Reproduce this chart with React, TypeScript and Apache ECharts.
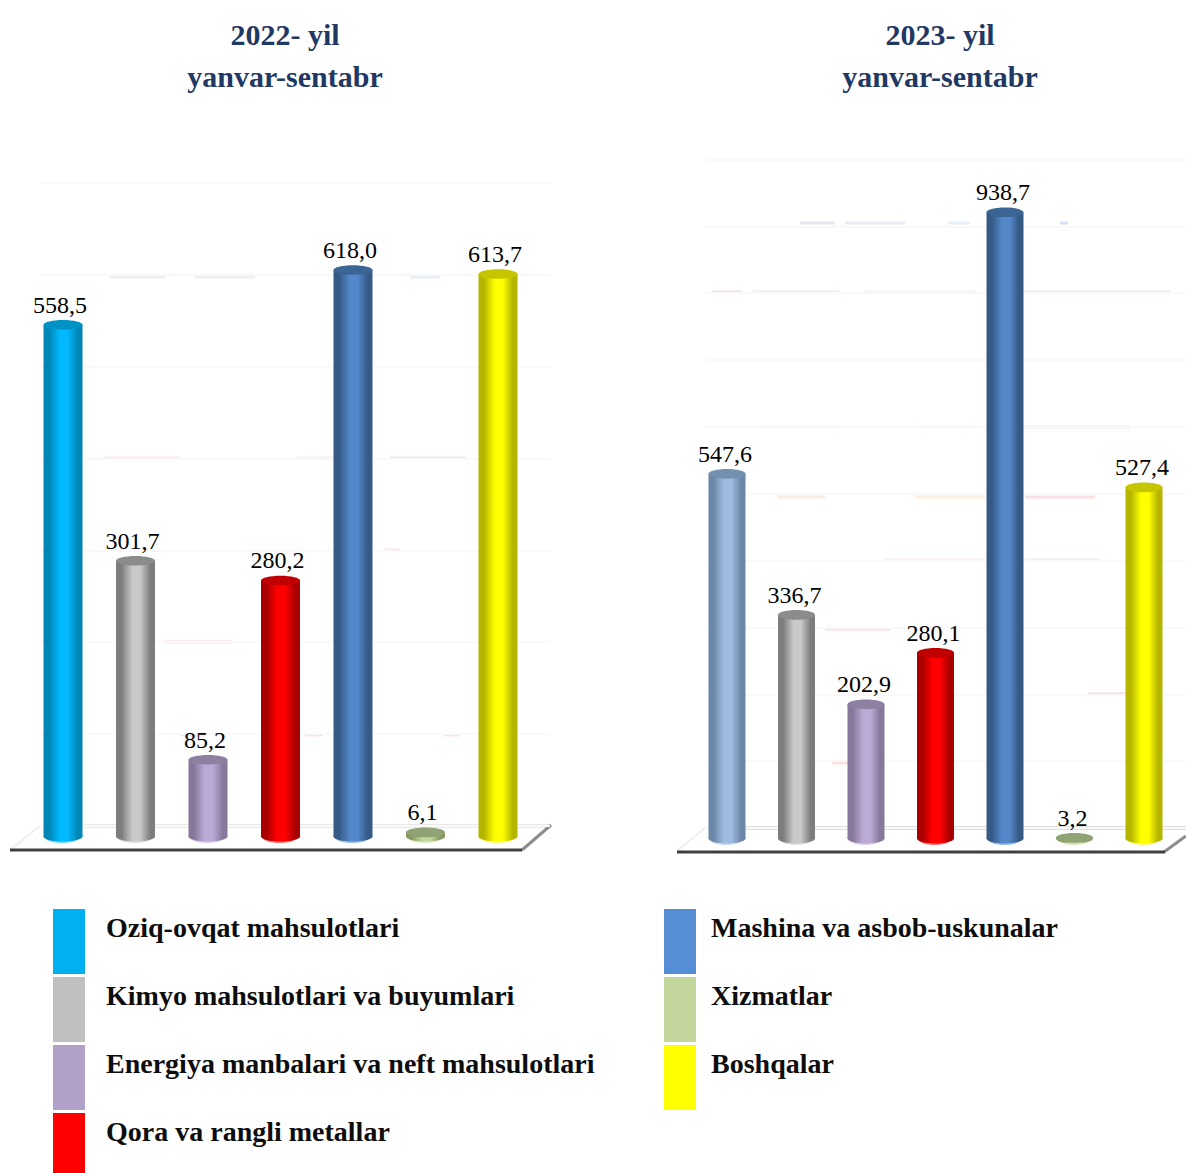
import React, { useEffect, useRef } from "react";
import * as echarts from "echarts";

const categories = [
  "Oziq-ovqat mahsulotlari",
  "Kimyo mahsulotlari va buyumlari",
  "Energiya manbalari va neft mahsulotlari",
  "Qora va rangli metallar",
  "Mashina va asbob-uskunalar",
  "Xizmatlar",
  "Boshqalar",
];
const values2022 = [558.5, 301.7, 85.2, 280.2, 618.0, 6.1, 613.7];
const values2023 = [547.6, 336.7, 202.9, 280.1, 938.7, 3.2, 527.4];
const legendColors = ["#00b0f0", "#bfbfbf", "#b1a0c7", "#ff0000", "#558ed5", "#c3d69b", "#ffff00"];

// [edge, centre, top]
const shades2022 = [
  ["#0085b5", "#00b9ff", "#0092c4"],
  ["#7d7d7d", "#c9c9c9", "#8c8c8c"],
  ["#85789b", "#bcaad6", "#8d80a0"],
  ["#a80000", "#ff0000", "#c00000"],
  ["#345a85", "#5488ca", "#3a6595"],
  ["#87995f", "#c3d69b", "#8fa374"],
  ["#b5b500", "#ffff00", "#c6c600"],
];
const shades2023 = [["#6c86a8", "#9fbde2", "#7490b0"], ...shades2022.slice(1)];

const SERIF = '"Liberation Serif"';

function cylinderSeries(name: string, values: number[], shades: string[][], axisIndex: number, width: number, labelShift: number) {
  return {
    type: "custom",
    name,
    xAxisIndex: axisIndex,
    yAxisIndex: axisIndex,
    clip: false,
    z: 5,
    encode: { x: 0, y: 1 },
    data: values.map((v, i) => [i, v]),
    renderItem: (_p: any, api: any) => {
      const i = api.value(0);
      const v = api.value(1);
      const top = api.coord([i, v]);
      const base = api.coord([i, 0]);
      const [edge, centre, cap] = shades[i];
      const cx = top[0];
      const r = width / 2;
      const grad = new echarts.graphic.LinearGradient(0, 0, 1, 0, [
        { offset: 0, color: edge },
        { offset: 0.14, color: edge },
        { offset: 0.42, color: centre },
        { offset: 0.62, color: centre },
        { offset: 0.88, color: edge },
        { offset: 1, color: edge },
      ]);
      return {
        type: "group",
        children: [
          { type: "ellipse", shape: { cx: cx - 1, cy: base[1], rx: r - 3, ry: 5 }, style: { fill: centre, opacity: 0.55 } },
          { type: "ellipse", shape: { cx, cy: base[1] - 1.5, rx: r, ry: 5 }, style: { fill: grad } },
          { type: "rect", shape: { x: cx - r, y: top[1], width: width, height: base[1] - 1.5 - top[1] }, style: { fill: grad } },
          { type: "ellipse", shape: { cx, cy: top[1], rx: r, ry: 4.8 }, style: { fill: cap } },
          {
            type: "text",
            style: {
              text: v.toFixed(1).replace(".", ","),
              x: cx + labelShift,
              y: top[1] - 20,
              align: "center",
              verticalAlign: "middle",
              fill: "#000",
              font: `24px ${SERIF}`,
            },
          },
        ],
      };
    },
  };
}

const hiddenY = (max: number, grid: number, showSplit: boolean) => ({
  type: "value",
  gridIndex: grid,
  min: 0,
  max,
  interval: 100,
  axisLabel: { show: false },
  axisLine: { show: false },
  axisTick: { show: false },
  splitLine: { show: showSplit, lineStyle: { color: "#faf8f8", width: 2 } },
});
const hiddenX = (grid: number) => ({
  type: "category",
  gridIndex: grid,
  data: categories,
  show: false,
});

const seg = (x1: number, x2: number, y: number, color: string, width = 3) => ({
  type: "line",
  shape: { x1, y1: y, x2, y2: y },
  style: { stroke: color, lineWidth: width },
  silent: true,
});
const diag = (x1: number, y1: number, x2: number, y2: number, color: string, width = 3) => ({
  type: "line",
  shape: { x1, y1, x2, y2 },
  style: { stroke: color, lineWidth: width },
  silent: true,
});

const decor = [
  // gridline remnants, left panel
  seg(110, 165, 277, "#f1edf1"), seg(195, 255, 277, "#f1edf1"), seg(410, 440, 277, "#e6edf5"),
  seg(103, 180, 458, "#fbe9ec"), seg(295, 340, 458, "#f8f0f0"), seg(390, 465, 458, "#efe4ee"),
  seg(385, 400, 550, "#fbe6e6"), seg(165, 232, 642, "#fcdcdc"), seg(180, 205, 735, "#fde0e6"),
  seg(305, 322, 735, "#fde0e6"), seg(443, 460, 735, "#fde0e6"),
  // gridline remnants, right panel
  seg(800, 835, 223, "#e6e6f0"), seg(845, 905, 223, "#e8ecf4"), seg(948, 970, 223, "#e6eef6"), seg(1060, 1068, 223, "#d5e4f2"),
  seg(712, 742, 292, "#f8dfe4"), seg(753, 840, 292, "#f8eaea"), seg(865, 975, 292, "#faf1ef"), seg(1025, 1170, 292, "#e3ebf6"),
  seg(765, 840, 427, "#fbefe9"), seg(920, 970, 427, "#f9efe9"), seg(1025, 1130, 427, "#ece8f0"),
  seg(778, 825, 497, "#fcebe3"), seg(915, 985, 497, "#fdeee0"), seg(1025, 1095, 497, "#f8e0e3"),
  seg(885, 985, 560, "#fdf0e8"), seg(1025, 1100, 560, "#f8eee8"),
  seg(825, 890, 629, "#fcdcdc"), seg(1088, 1125, 694, "#fcdcdc"), seg(832, 848, 763, "#f6e0e0"),
  // floor, left panel
  seg(85, 550, 826, "#d6d6d2"),
  diag(10, 850, 40, 826, "#efefef", 2),
  diag(522, 850, 551, 825, "#8c8c8c"),
  seg(10, 522, 850, "#404040"),
  // floor, right panel
  seg(708, 1186, 828, "#dfdfdf", 4),
  diag(677, 851, 705, 828, "#efefef", 2),
  diag(1164, 852, 1186, 836, "#8c8c8c"),
  seg(677, 852, 1165, "#404040") && seg(677, 1165, 852, "#404040"),
];

const legendRows = [0, 1, 2, 3];
const legendSlots = categories.map((_, i) => ({ col: i < 4 ? 0 : 1, row: i < 4 ? i : i - 4 }));
const legendGraphics = categories.flatMap((name, i) => {
  const { col, row } = legendSlots[i];
  const y = 909 + legendRows[row] * 68;
  const height = row === 3 ? 60 : 65;
  return [
    {
      type: "rect",
      shape: { x: col === 0 ? 53 : 664, y, width: 32, height },
      style: { fill: legendColors[i] },
      silent: true,
    },
    {
      type: "text",
      style: {
        text: name,
        x: col === 0 ? 106 : 711,
        y: y + 18,
        align: "left",
        verticalAlign: "middle",
        fill: "#0d0d0d",
        font: `bold 28px ${SERIF}`,
      },
      silent: true,
    },
  ];
});

const titleStyle = { fontFamily: SERIF, fontWeight: "bold" as const, fontSize: 30, color: "#1f3864", lineHeight: 42, align: "center" as const };

export default function App() {
  const ref = useRef<HTMLDivElement>(null);
  useEffect(() => {
    if (!ref.current) return;
    const chart = echarts.init(ref.current, undefined, { renderer: "svg" });
    chart.setOption({
      animation: false,
      backgroundColor: "#ffffff",
      title: [
        { text: "2022- yil\nyanvar-sentabr", left: 280, top: 8, textAlign: "center", textStyle: titleStyle },
        { text: "2023- yil\nyanvar-sentabr", left: 935, top: 8, textAlign: "center", textStyle: titleStyle },
      ],
      grid: [
        { left: 26.75, width: 507.5, top: 194.7, height: 643.3 },
        { left: 692.25, width: 486.5, top: 171.4, height: 668.6 },
        { left: 40, width: 510, top: 182.7, height: 643.3 },
        { left: 705, width: 481, top: 159.4, height: 668.6 },
      ],
      xAxis: [hiddenX(0), hiddenX(1), hiddenX(2), hiddenX(3)],
      yAxis: [hiddenY(700, 0, false), hiddenY(1000, 1, false), hiddenY(700, 2, true), hiddenY(1000, 3, true)],
      graphic: { elements: [...decor, ...legendGraphics] },
      series: [
        cylinderSeries("2022 yanvar-sentabr", values2022, shades2022, 0, 39, -3),
        cylinderSeries("2023 yanvar-sentabr", values2023, shades2023, 1, 37, -2),
      ],
    });
    return () => chart.dispose();
  }, []);
  return <div ref={ref} style={{ position: "absolute", left: 0, top: 0, width: 1186, height: 1173 }} />;
}
